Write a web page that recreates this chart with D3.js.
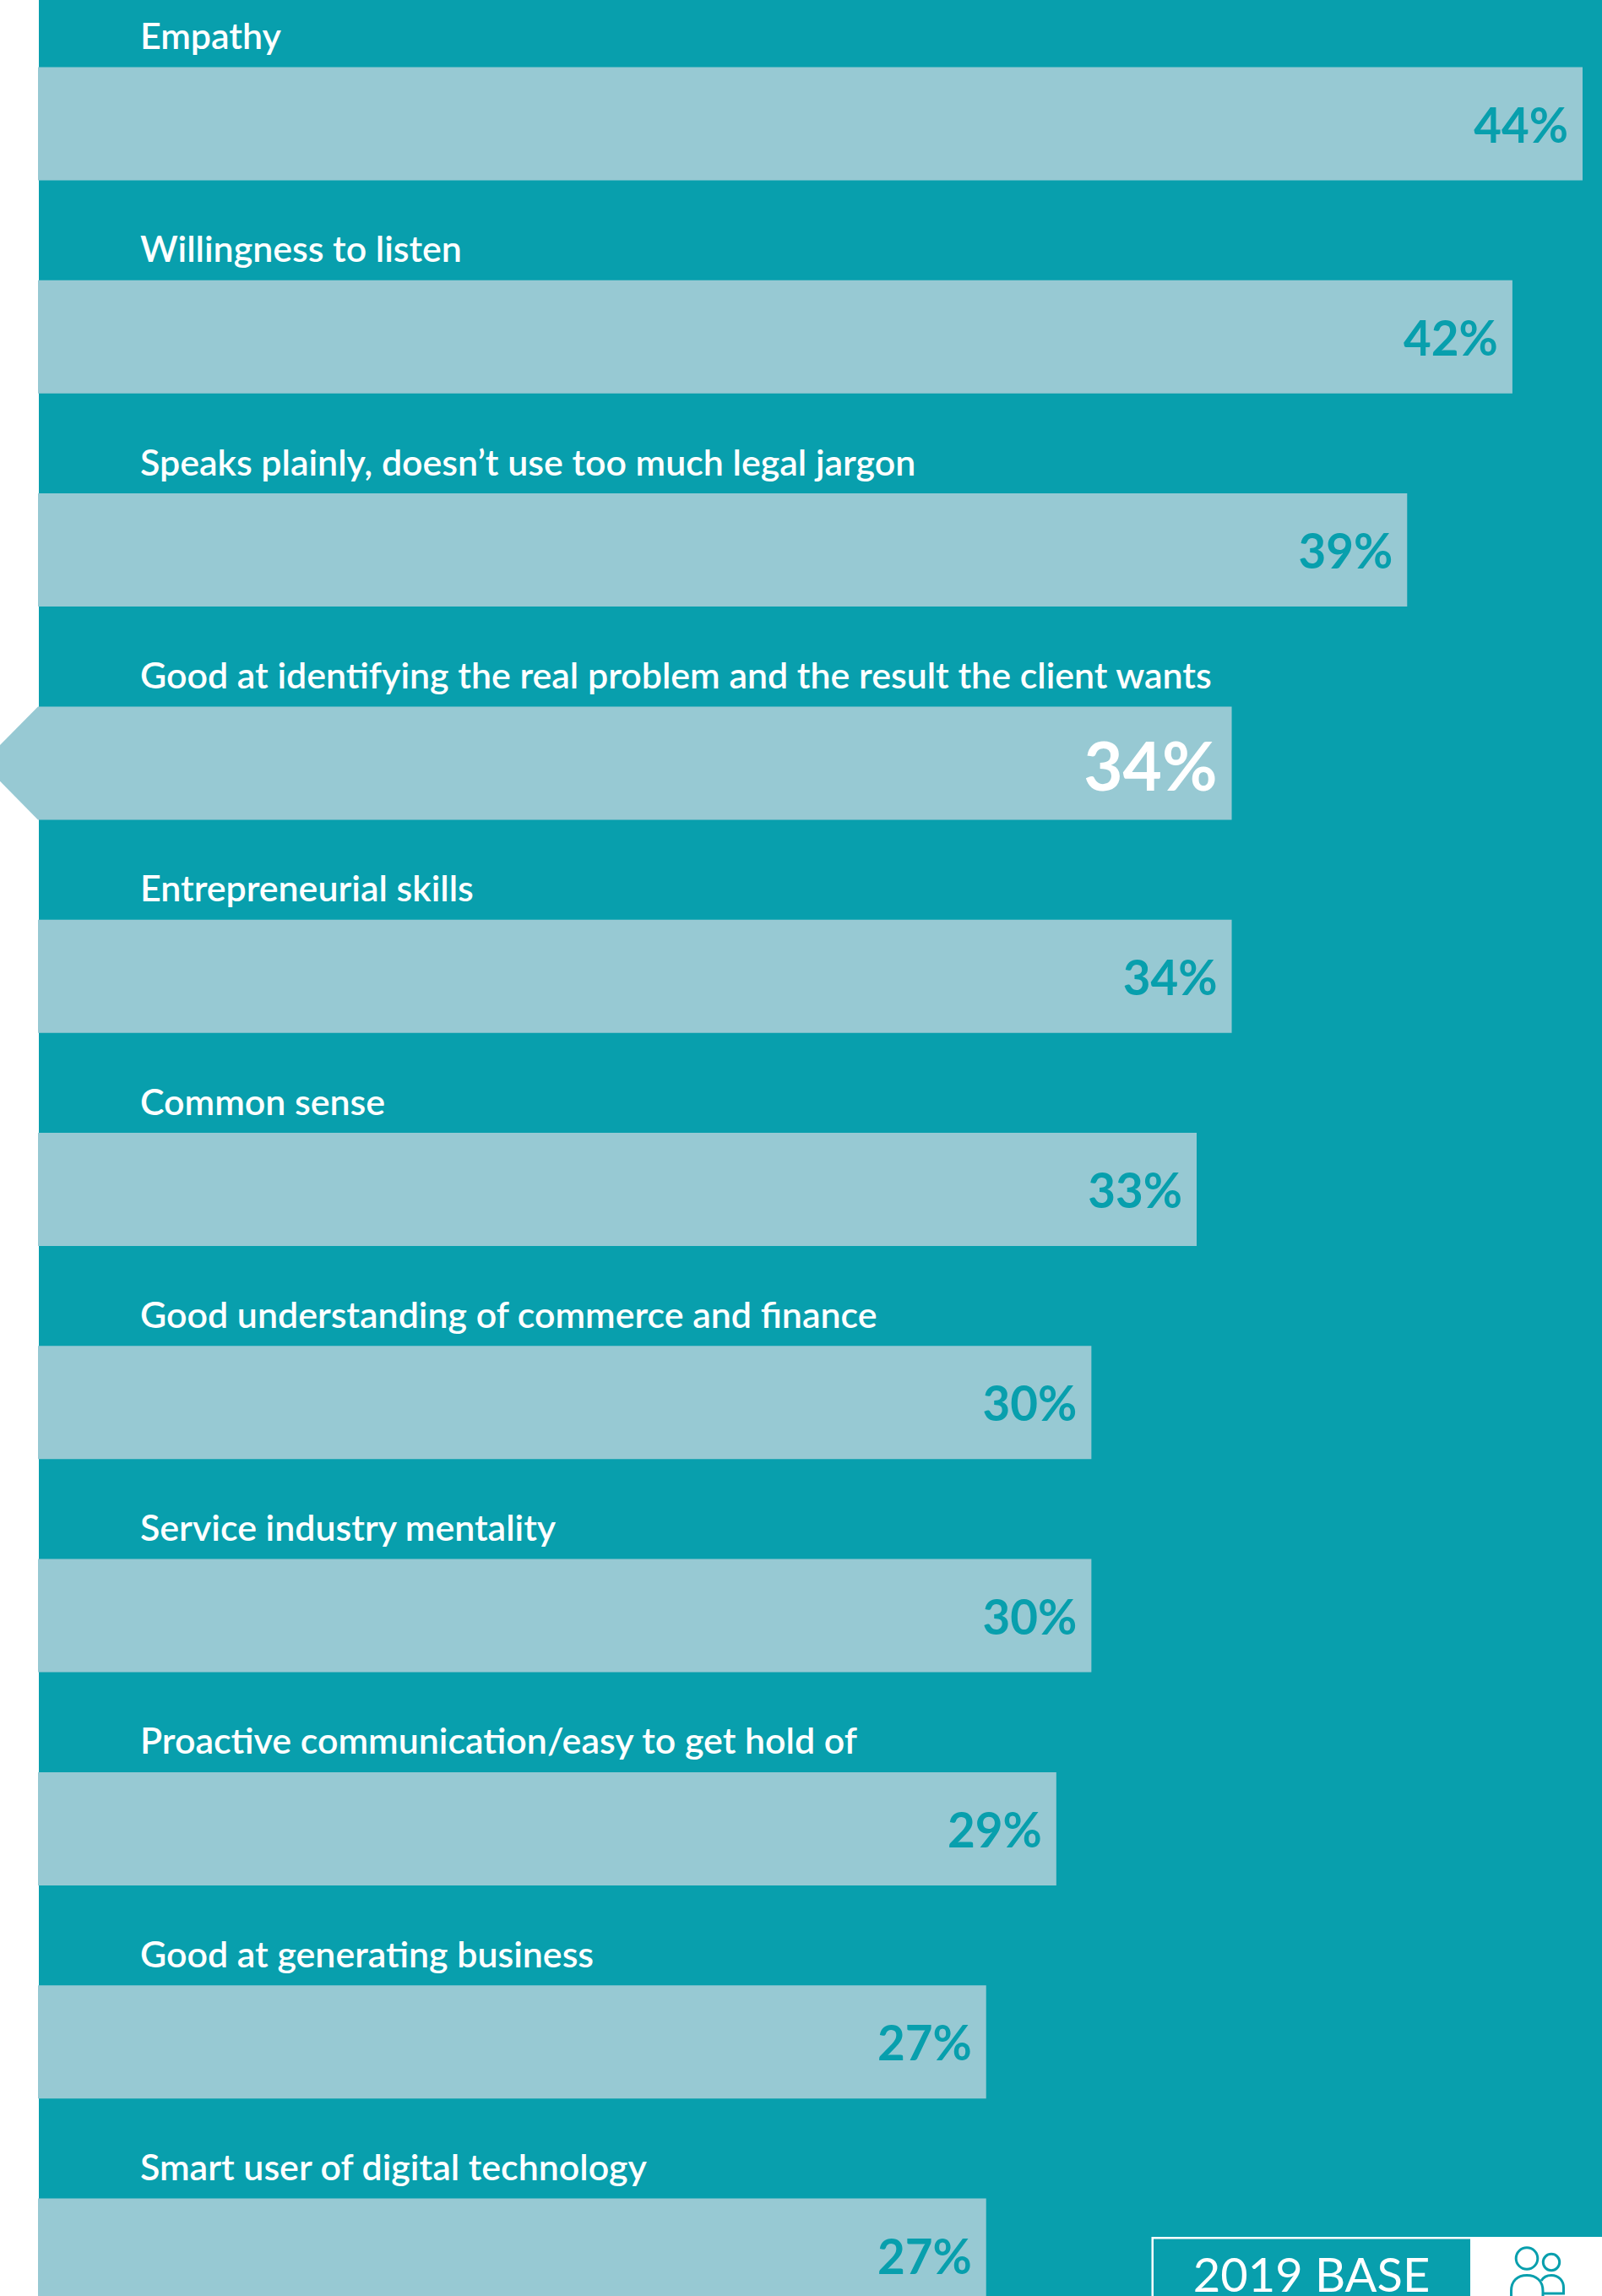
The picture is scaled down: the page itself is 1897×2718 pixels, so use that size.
<!DOCTYPE html>
<html>
<head>
<meta charset="utf-8">
<style>
html, body { margin: 0; padding: 0; background: #fff; }
svg { display: block; }
text { font-family: Lato, sans-serif; }
</style>
<script src="https://cdnjs.cloudflare.com/ajax/libs/d3/7.8.5/d3.min.js"></script>
</head>
<body>
<svg id="chart" width="1897" height="2718"></svg>
<script>
const categories = [
  "Empathy",
  "Willingness to listen",
  "Speaks plainly, doesn’t use too much legal jargon",
  "Good at identifying the real problem and the result the client wants",
  "Entrepreneurial skills",
  "Common sense",
  "Good understanding of commerce and finance",
  "Service industry mentality",
  "Proactive communication/easy to get hold of",
  "Good at generating business",
  "Smart user of digital technology"
];
const values = [44, 42, 39, 34, 34, 33, 30, 30, 29, 27, 27];
const highlighted = [false, false, false, true, false, false, false, false, false, false, false];
const baseLabel = "2019 BASE";

const TEAL = "#089fad";
const PALE = "#97c9d3";
const W = 1897, H = 2718;
const plotLeft = 46, barH = 134, step = 252.3, plotTop = 79.5;

const svg = d3.select("#chart");

const x = d3.scaleLinear().domain([0, 44]).range([plotLeft, 1874]);
const y = d3.scaleBand()
  .domain(categories)
  .range([plotTop, plotTop + step * (categories.length - 1) + barH])
  .paddingInner(1 - barH / step)
  .paddingOuter(0);

// Teal panel behind everything, leaving the white margin on the left
svg.append("rect").attr("x", plotLeft).attr("y", 0)
  .attr("width", W - plotLeft).attr("height", H).attr("fill", TEAL);

const rows = svg.selectAll("g.row")
  .data(categories.map((c, i) => ({ c, v: values[i], hi: highlighted[i] })))
  .join("g").attr("class", "row");

// Bars; the highlighted row gets a pointed left end running off the page
rows.append("path")
  .attr("fill", PALE)
  .attr("d", d => {
    const t = y(d.c), b = t + y.bandwidth(), r = x(d.v);
    if (d.hi) {
      const mid = (t + b) / 2, tip = 67;
      return d3.line()([[plotLeft - 1, t], [r, t], [r, b], [plotLeft - 1, b], [plotLeft - tip, mid]]) + "Z";
    }
    return d3.line()([[plotLeft - 1, t], [r, t], [r, b], [plotLeft - 1, b]]) + "Z";
  });

rows.append("text")
  .attr("x", 166)
  .attr("y", d => y(d.c) - 21.5)
  .attr("fill", "#fff")
  .attr("font-size", 42.9)
  .attr("font-weight", 600)
  .text(d => d.c);

rows.append("text")
  .attr("x", d => x(d.v) - 17)
  .attr("y", d => y(d.c) + (d.hi ? 100 : 89))
  .attr("text-anchor", "end")
  .attr("fill", d => d.hi ? "#fff" : TEAL)
  .attr("font-size", d => d.hi ? 80 : 56.5)
  .attr("font-weight", 700)
  .text(d => d.v + "%");

// Base badge in the bottom right corner
const badge = svg.append("g");
badge.append("rect").attr("x", 1741).attr("y", 2648).attr("width", W - 1741).attr("height", H - 2648).attr("fill", "#fff");
badge.append("path")
  .attr("d", "M1741 2649.25H1364.75V2718")
  .attr("fill", "none").attr("stroke", "#fff").attr("stroke-width", 2.5);
badge.append("text")
  .attr("x", 1553).attr("y", 2712.5)
  .attr("text-anchor", "middle")
  .attr("fill", "#fff").attr("font-size", 56).attr("font-weight", 400)
  .text(baseLabel);

// Two-person icon
const icon = badge.append("g").attr("fill", "none").attr("stroke", TEAL).attr("stroke-width", 3);
icon.append("circle").attr("cx", 1808).attr("cy", 2673.5).attr("r", 12.8);
icon.append("circle").attr("cx", 1837).attr("cy", 2678).attr("r", 9.7);
icon.append("path").attr("d", "M1789.5 2718V2712C1789.5 2700 1797 2693.5 1808 2693.5C1819 2693.5 1827 2700 1827 2712V2718");
icon.append("path").attr("d", "M1825 2700C1828 2695 1832 2693.5 1837 2693.5C1846 2693.5 1851.5 2700 1851.5 2708V2715H1828");
</script>
</body>
</html>
